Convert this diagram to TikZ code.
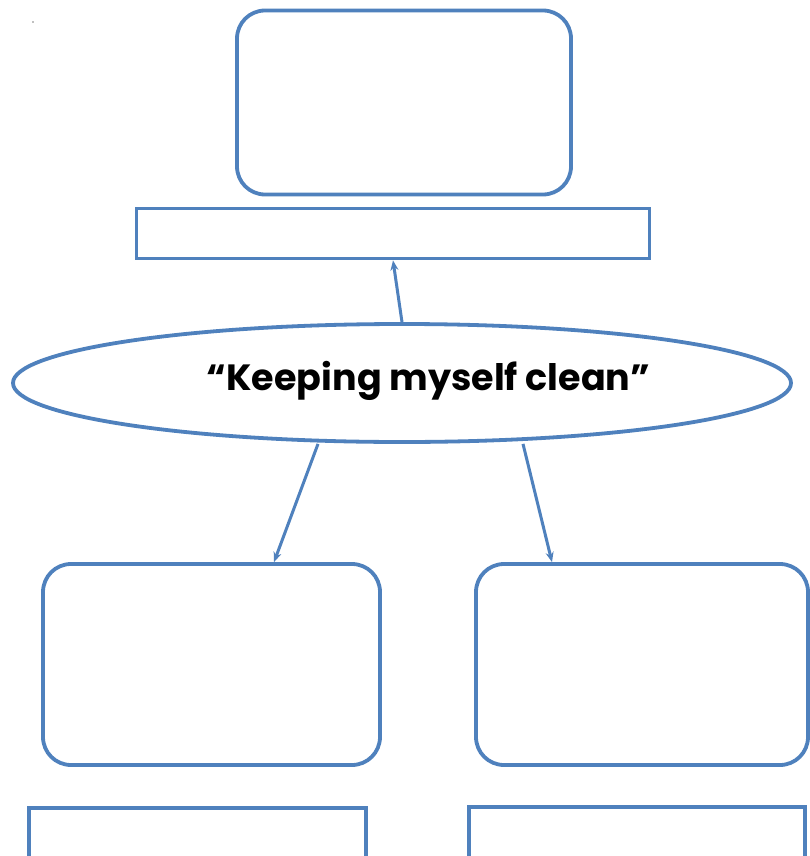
\documentclass[tikz,border=0pt]{standalone}
\usepackage{fontspec}
\setmainfont{Poppins}
\usetikzlibrary{shapes.geometric,arrows.meta}
\definecolor{boxblue}{RGB}{79,129,189}
\tikzset{
  outline/.style={draw=boxblue,line width=3.8pt,fill=white,inner sep=0pt},
  roundbox/.style={outline,rectangle,rounded corners=28pt},
  bar/.style={outline,rectangle},
  oval/.style={outline,ellipse},
  arr/.style={draw=boxblue,line width=3pt,-{Stealth[length=10pt,width=8pt]}},
  title/.style={font=\fontsize{36.5}{40}\selectfont\bfseries,text=black,inner sep=0pt}
}
\begin{document}
\begin{tikzpicture}[x=1pt,y=-1pt]
\useasboundingbox (0,0) rectangle (810,856);
\clip (0,0) rectangle (810,856);
\fill[white] (0,0) rectangle (810,856);
\fill[gray] (33,22) circle (0.9pt);
\node[roundbox,minimum width=334pt,minimum height=184pt] (topbox) at (404,102.5) {};
\node[bar,minimum width=513pt,minimum height=50pt] (topbar) at (393,233.5) {};
\node[oval,minimum width=778pt,minimum height=118pt] (ell) at (402,383) {};
\node[title,anchor=base] (ttl) at (428.5,390) {“Keeping myself clean”};
\node[roundbox,minimum width=337pt,minimum height=201pt] (lbox) at (211.5,664.5) {};
\node[roundbox,minimum width=332pt,minimum height=201pt] (rbox) at (642,664.5) {};
\node[bar,minimum width=337pt,minimum height=80pt] (lbar) at (197.5,848) {};
\node[bar,minimum width=336pt,minimum height=80pt] (rbar) at (637,847) {};
\draw[arr] (ell.north) -- (topbar.south);
\draw[arr] ([xshift=-84pt]ell.south) -- ([xshift=62.5pt]lbox.north);
\draw[arr] ([xshift=121pt]ell.south) -- ([xshift=-90pt]rbox.north);
\end{tikzpicture}
\end{document}
